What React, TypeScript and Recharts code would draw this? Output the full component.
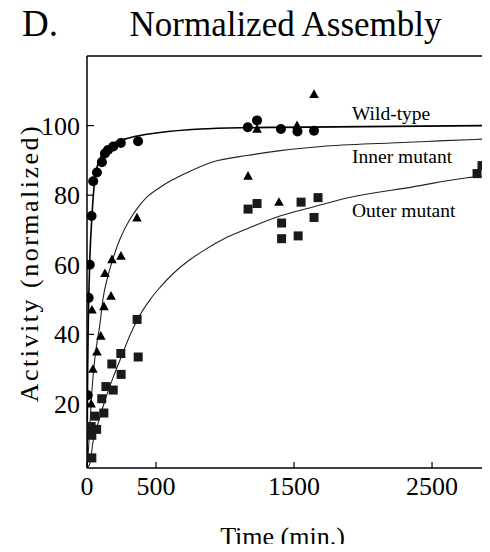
import React from "react";
import { ComposedChart, Scatter, Line, XAxis, YAxis, ReferenceLine } from "recharts";

const SERIF = "'Liberation Serif', 'Times New Roman', serif";

const xTicks = [0, 500, 1500, 2500];
const yTicks = [20, 40, 60, 80, 100];

const wildTypePoints = [
  { t: 5, v: 22.5 }, { t: 12, v: 50.5 }, { t: 20, v: 60 }, { t: 33, v: 74 },
  { t: 45, v: 84 }, { t: 72, v: 86.5 }, { t: 108, v: 89.5 }, { t: 130, v: 92 },
  { t: 152, v: 93 }, { t: 190, v: 94 }, { t: 245, v: 95 }, { t: 370, v: 95.5 },
  { t: 1165, v: 99.5 }, { t: 1232, v: 101.5 }, { t: 1405, v: 99 }, { t: 1525, v: 98.3 },
  { t: 1645, v: 98.5 },
];

const innerPoints = [
  { t: 30, v: 20 }, { t: 43, v: 30 }, { t: 72, v: 35 }, { t: 100, v: 39.5 },
  { t: 36, v: 47 }, { t: 123, v: 48 }, { t: 174, v: 51 }, { t: 130, v: 57.5 },
  { t: 181, v: 61.5 }, { t: 246, v: 62.5 }, { t: 362, v: 73.5 }, { t: 1167, v: 85.5 },
  { t: 1232, v: 99 }, { t: 1391, v: 78 }, { t: 1522, v: 100 }, { t: 1645, v: 109 },
];

const outerPoints = [
  { t: 35, v: 4.5 }, { t: 35, v: 11 }, { t: 30, v: 13.5 }, { t: 70, v: 12.7 },
  { t: 58, v: 16.5 }, { t: 122, v: 17.4 }, { t: 107, v: 21.5 }, { t: 137, v: 25 },
  { t: 190, v: 24 }, { t: 180, v: 31.5 }, { t: 247, v: 28.5 }, { t: 245, v: 34.5 },
  { t: 371, v: 33.5 }, { t: 363, v: 44.3 }, { t: 1167, v: 76 }, { t: 1232, v: 77.6 },
  { t: 1410, v: 72 }, { t: 1410, v: 67.5 }, { t: 1530, v: 68.3 }, { t: 1551, v: 78 },
  { t: 1645, v: 73.6 }, { t: 1674, v: 79.3 }, { t: 2826, v: 86.2 }, { t: 2862, v: 88.5 },
];

const wildCurve = [
  { t: 0, v: 1.6 }, { t: 5, v: 30 }, { t: 10, v: 45 }, { t: 20, v: 61 },
  { t: 36, v: 74 }, { t: 58, v: 85 }, { t: 94, v: 90.5 }, { t: 140, v: 93 },
  { t: 190, v: 94.8 }, { t: 310, v: 96.5 }, { t: 530, v: 98 }, { t: 820, v: 99 },
  { t: 1160, v: 99.4 }, { t: 1400, v: 99.5 }, { t: 2000, v: 99.7 }, { t: 2920, v: 100 },
];

const innerCurve = [
  { t: 0, v: 1.6 }, { t: 7, v: 4.8 }, { t: 22, v: 14.5 }, { t: 36, v: 24 },
  { t: 58, v: 33.5 }, { t: 94, v: 43 }, { t: 115, v: 50 }, { t: 150, v: 56.5 },
  { t: 190, v: 62 }, { t: 240, v: 67.5 }, { t: 310, v: 73 }, { t: 370, v: 76.5 },
  { t: 435, v: 79.5 }, { t: 520, v: 82 }, { t: 600, v: 84 }, { t: 700, v: 86 },
  { t: 915, v: 89.6 }, { t: 1160, v: 91.4 }, { t: 1400, v: 92.8 }, { t: 1700, v: 94 },
  { t: 2200, v: 95 }, { t: 2550, v: 95.6 }, { t: 2920, v: 96.2 },
];

const outerCurve = [
  { t: 0, v: 1.6 }, { t: 22, v: 3 }, { t: 43, v: 9 }, { t: 80, v: 14.5 },
  { t: 130, v: 21 }, { t: 190, v: 27.7 }, { t: 253, v: 34 }, { t: 312, v: 39.8 },
  { t: 362, v: 44 }, { t: 457, v: 50 }, { t: 529, v: 53.5 }, { t: 625, v: 57.5 },
  { t: 730, v: 61 }, { t: 841, v: 64 }, { t: 1014, v: 67.9 }, { t: 1181, v: 70.7 },
  { t: 1398, v: 74 }, { t: 1638, v: 76.6 }, { t: 1884, v: 79.2 }, { t: 2362, v: 82.4 },
  { t: 2754, v: 85 }, { t: 2920, v: 85.6 },
];

const CircleShape = (p: any) => <circle cx={p.cx} cy={p.cy} r={5} fill="#000" />;
const TriangleShape = (p: any) => (
  <polygon
    points={`${p.cx},${p.cy - 5} ${p.cx - 4.8},${p.cy + 3.6} ${p.cx + 4.8},${p.cy + 3.6}`}
    fill="#000"
  />
);
const SquareShape = (p: any) => (
  <rect x={p.cx - 4.5} y={p.cy - 4.5} width={9} height={9} fill="#1a1a1a" />
);

const XTick = (p: any) => (
  <g>
    <line x1={p.x} y1={p.y} x2={p.x} y2={p.y - 6} stroke="#000" strokeWidth={1.2} />
    <text x={p.x} y={p.y + 27} textAnchor="middle" fontSize={26} fontFamily={SERIF} fill="#000">
      {p.payload.value}
    </text>
  </g>
);

const YTick = (p: any) => (
  <g>
    <line x1={p.x} y1={p.y} x2={p.x + 7} y2={p.y} stroke="#000" strokeWidth={1.2} />
    <text x={p.x - 7} y={p.y + 9} textAnchor="end" fontSize={26} fontFamily={SERIF} fill="#000">
      {p.payload.value}
    </text>
  </g>
);

export default function App() {
  return (
    <div style={{ position: "relative", width: 482, height: 544, marginBottom: -8, background: "#fff" }}>
      <ComposedChart width={482} height={536} margin={{ top: 48, right: 0, bottom: 0, left: 0 }}>
        <XAxis
          type="number"
          dataKey="t"
          domain={[0, 2920]}
          ticks={xTicks}
          allowDataOverflow
          height={76}
          tickSize={0}
          tickMargin={0}
          tickLine={false}
          tick={<XTick />}
          axisLine={{ stroke: "#000", strokeWidth: 1.5 }}
        />
        <YAxis
          type="number"
          dataKey="v"
          domain={[1.6, 120]}
          ticks={yTicks}
          allowDataOverflow
          width={79}
          tickSize={0}
          tickMargin={0}
          tickLine={false}
          tick={<YTick />}
          axisLine={{ stroke: "#000", strokeWidth: 1.5 }}
        />
        <ReferenceLine y={120} stroke="#000" strokeWidth={1.5} />
        <Line data={wildCurve} dataKey="v" type="monotone" stroke="#000" strokeWidth={1.6} dot={false} isAnimationActive={false} />
        <Line data={innerCurve} dataKey="v" type="monotone" stroke="#222" strokeWidth={1.1} dot={false} isAnimationActive={false} />
        <Line data={outerCurve} dataKey="v" type="monotone" stroke="#222" strokeWidth={1.1} dot={false} isAnimationActive={false} />
        <Scatter data={outerPoints} dataKey="v" shape={SquareShape} isAnimationActive={false} />
        <Scatter data={innerPoints} dataKey="v" shape={TriangleShape} isAnimationActive={false} />
        <Scatter data={wildTypePoints} dataKey="v" shape={CircleShape} isAnimationActive={false} />
      </ComposedChart>
      <svg
        width={482}
        height={544}
        style={{ position: "absolute", left: 0, top: 0, overflow: "visible", pointerEvents: "none" }}
      >
        <text x={14} y={28} fontSize={37} fontFamily={SERIF} fill="#000">D.</text>
        <text x={277.5} y={28} fontSize={35} fontFamily={SERIF} textAnchor="middle" fill="#000">
          Normalized Assembly
        </text>
        <text
          transform="translate(30,255) rotate(-90)"
          fontSize={26}
          letterSpacing={2.5}
          fontFamily={SERIF}
          textAnchor="middle"
          fill="#000"
        >
          Activity (normalized)
        </text>
        <text x={274.5} y={537} fontSize={26} fontFamily={SERIF} textAnchor="middle" fill="#000">
          Time (min.)
        </text>
        <text x={344} y={112} fontSize={19.5} fontFamily={SERIF} fill="#000">Wild-type</text>
        <text x={344} y={155} fontSize={19.5} fontFamily={SERIF} fill="#000">Inner mutant</text>
        <text x={344} y={209} fontSize={19.5} fontFamily={SERIF} fill="#000">Outer mutant</text>
      </svg>
    </div>
  );
}
